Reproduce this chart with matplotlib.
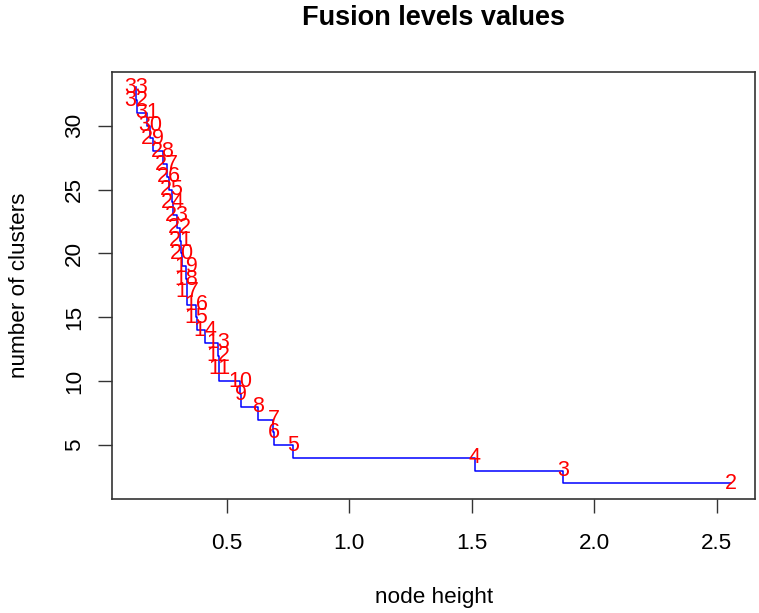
import matplotlib
matplotlib.use('Agg')
import matplotlib.pyplot as plt

plt.rcParams['font.family'] = ['Liberation Sans', 'DejaVu Sans']

# number of clusters (33 down to 2) and corresponding fusion node heights
clusters = list(range(33, 1, -1))
heights = [0.129, 0.131, 0.173, 0.185, 0.197, 0.238, 0.255, 0.262, 0.274, 0.280,
           0.295, 0.307, 0.312, 0.318, 0.333, 0.335, 0.338, 0.373, 0.376, 0.410,
           0.465, 0.466, 0.468, 0.553, 0.556, 0.628, 0.690, 0.692, 0.770, 1.513,
           1.873, 2.560]
x_ticks = [0.5, 1.0, 1.5, 2.0, 2.5]
y_ticks = [5, 10, 15, 20, 25, 30]

W, H = 759, 613
fig = plt.figure(figsize=(W / 100, H / 100), dpi=100)
L, R, T, B = 112.3, 755.0, 71.5, 499.3
ax = fig.add_axes([L / W, 1 - B / H, (R - L) / W, (B - T) / H])

ax.step(heights, clusters, where='pre', color='#0000FF', lw=1.1)
for h, c in zip(heights, clusters):
    ax.text(h, c, str(c), color='#FF0000', ha='center', va='center', fontsize=15.5)

xr = max(heights) - min(heights)
ax.set_xlim(min(heights) - 0.04 * xr, max(heights) + 0.04 * xr)
yr = max(clusters) - min(clusters)
ax.set_ylim(min(clusters) - 0.04 * yr, max(clusters) + 0.04 * yr)

ax.set_xticks(x_ticks)
ax.set_xticklabels([f"{v:.1f}" for v in x_ticks])
ax.set_yticks(y_ticks)
ax.set_yticklabels([str(v) for v in y_ticks], rotation=90, va='center')
ax.tick_params(axis='both', length=10, width=1.0, labelsize=16.2, color='#333333')
ax.tick_params(axis='x', pad=14)
ax.tick_params(axis='y', pad=9.5)
for s in ax.spines.values():
    s.set_linewidth(1.2)
    s.set_color('#333333')

cx = (L + R) / 2 / W
fig.text(cx, 1 - 18 / H, 'Fusion levels values', ha='center', va='center',
         fontsize=19.5, fontweight='bold')
fig.text(cx, 1 - 597 / H, 'node height', ha='center', va='center', fontsize=16.2)
fig.text(20 / W, 1 - (T + B) / 2 / H, 'number of clusters', ha='center', va='center',
         rotation=90, fontsize=16.2)

fig.savefig('out.png', dpi=100)
